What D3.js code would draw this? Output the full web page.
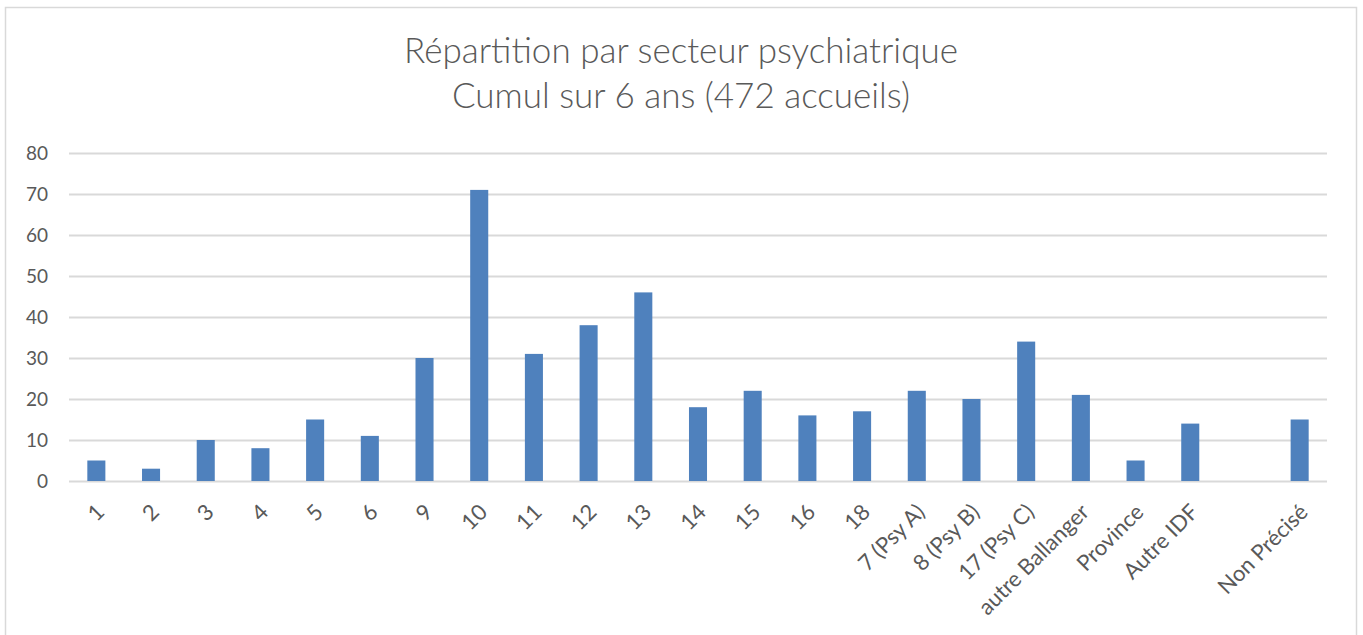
<!DOCTYPE html>
<html>
<head>
<meta charset="utf-8">
<script src="https://cdn.jsdelivr.net/npm/d3@7"></script>
<style>
	body { margin: 0; background: #fff; }
	svg text { font-family: Lato, "Open Sans", sans-serif; fill: #595959; }
</style>
</head>
<body>
<div id="chart"></div>
<script>
// data
var titleLines = ['Répartition par secteur psychiatrique', 'Cumul sur 6 ans (472 accueils)'];
var sectors = ['1', '2', '3', '4', '5', '6', '9', '10', '11', '12', '13', '14', '15', '16', '18',
	'7 (Psy A)', '8 (Psy B)', '17 (Psy C)', 'autre Ballanger', 'Province', 'Autre IDF', '', 'Non Précisé'];
var accueils = [5, 3, 10, 8, 15, 11, 30, 71, 31, 38, 46, 18, 22, 16, 17, 22, 20, 34, 21, 5, 14, 0, 15];
var yTicks = [0, 10, 20, 30, 40, 50, 60, 70, 80];

var width = 1363, height = 635;
var margin = {top: 153, right: 36, bottom: 154, left: 69};
var viewWidth  = width - margin.left - margin.right;
var viewHeight = height - margin.top - margin.bottom;

var svg = d3.select('#chart').append('svg')
	.attr('width', width)
	.attr('height', height);

// chart frame
svg.append('rect')
	.attr('x', 5.5).attr('y', 7.5)
	.attr('width', 1351).attr('height', 640)
	.attr('fill', '#fff')
	.attr('stroke', '#d9d9d9')
	.attr('stroke-width', 1.5);

svg.append('g').selectAll('text')
	.data(titleLines)
	.enter().append('text')
	.attr('x', 681)
	.attr('y', function(d, i) { return 63 + i * 45; })
	.attr('text-anchor', 'middle')
	.style('font-size', '35px')
	.style('font-weight', 300)
	.text(function(d) { return d; });

var vis = svg.append('g')
	.attr('transform', 'translate(' + margin.left + ',' + margin.top + ')');

var xScale = d3.scaleBand()
	.domain(d3.range(sectors.length))
	.range([0, viewWidth])
	.paddingInner(0.67)
	.paddingOuter(0.335);

var yScale = d3.scaleLinear()
	.domain([0, 80])
	.range([viewHeight, 0]);

// gridlines
vis.append('g')
	.selectAll('line')
	.data(yTicks)
	.enter().append('line')
	.attr('x1', 0).attr('x2', viewWidth)
	.attr('y1', function(d) { return Math.round(yScale(d)) + 0.5; })
	.attr('y2', function(d) { return Math.round(yScale(d)) + 0.5; })
	.attr('stroke', '#d9d9d9')
	.attr('stroke-width', 2);

var yAxis = d3.axisLeft(yScale)
	.tickValues(yTicks)
	.tickSize(0)
	.tickPadding(21);

vis.append('g')
	.call(yAxis)
	.call(function(g) { g.select('.domain').remove(); })
	.selectAll('text')
	.style('font-size', '19px')
	.attr('fill', null);

vis.append('g')
	.selectAll('rect')
	.data(accueils)
	.enter().append('rect')
	.attr('x', function(d, i) { return xScale(i); })
	.attr('y', function(d) { return yScale(d); })
	.attr('width', xScale.bandwidth())
	.attr('height', function(d) { return viewHeight - yScale(d); })
	.attr('fill', '#4f81bd');

vis.append('g')
	.selectAll('text')
	.data(sectors)
	.enter().append('text')
	.attr('transform', function(d, i) {
		return 'translate(' + (xScale(i) + xScale.bandwidth() / 2 + 4) + ',' + (viewHeight + 27) + ') rotate(-45)';
	})
	.attr('text-anchor', 'end')
	.attr('dy', '0.35em')
	.style('font-size', '22px')
	.text(function(d) { return d; });
</script>
</body>
</html>
